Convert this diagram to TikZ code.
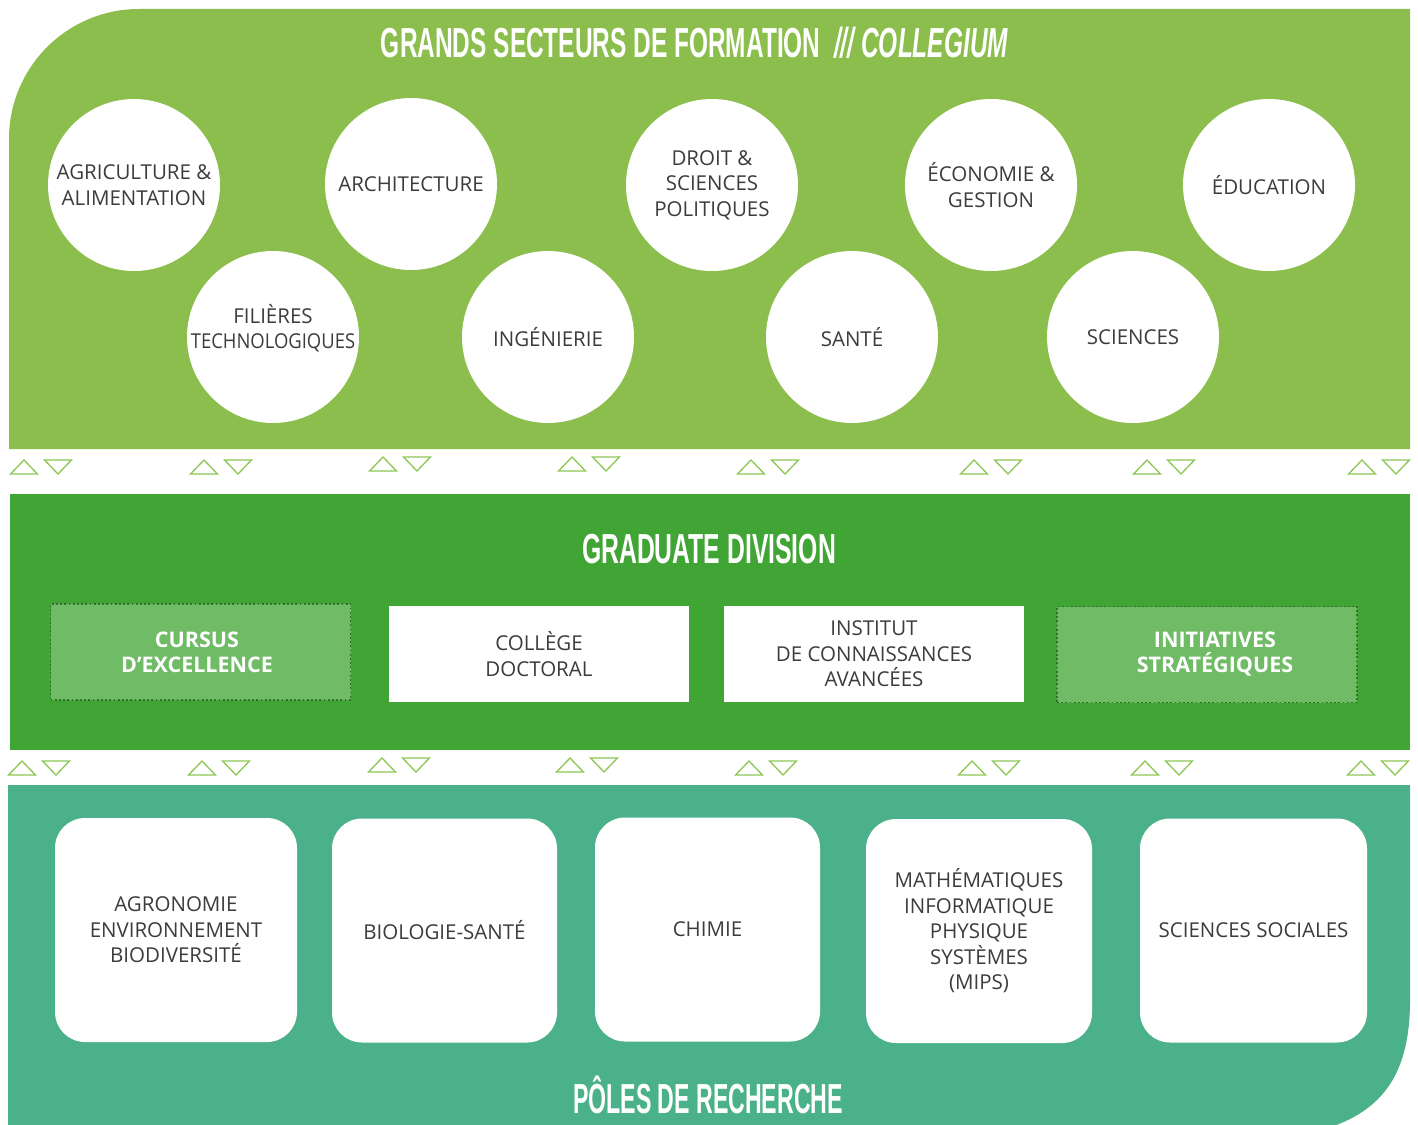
\documentclass[tikz,border=0pt]{standalone}
\usepackage{fontspec}
\usepackage{graphicx}
\setmainfont{Open Sans}
\newfontfamily\titlefont{Liberation Sans}
\definecolor{topgreen}{HTML}{8BBE4C}
\definecolor{midgreen}{HTML}{41A535}
\definecolor{botgreen}{HTML}{4BB18A}
\definecolor{dashfill}{HTML}{6FBB66}
\definecolor{dashline}{HTML}{376F30}
\definecolor{tricol}{HTML}{8CC653}
\definecolor{txt}{HTML}{3C3C3C}
\newcommand\ttl[2]{\resizebox{#1}{\height}{\titlefont\bfseries\fontsize{42}{42}\selectfont #2}}
\begin{document}
\begin{tikzpicture}[x=1pt,y=-1pt,
  bodyfont/.style={font=\fontsize{20.5}{25.5}\selectfont},
  circ/.style={circle, fill=white, minimum size=172pt, inner sep=0pt, align=center, bodyfont, text=txt},
  lbl/.style={inner sep=0pt, align=center, bodyfont, text=txt},
  wbox/.style={rectangle, fill=white, minimum width=300pt, minimum height=96pt, inner sep=0pt, align=center, bodyfont, text=txt},
  dbox/.style={rectangle, fill=dashfill, draw=dashline, dash pattern=on 1.8pt off 2.4pt, line width=1.8pt, minimum width=300pt, minimum height=96pt, inner sep=0pt, align=center, font=\fontsize{21.5}{25}\selectfont\bfseries, text=white},
  rbox/.style={rectangle, rounded corners=30pt, fill=white, minimum height=224pt, inner sep=0pt, align=center, bodyfont, text=txt},
  tri/.style={draw=tricol, line width=1.3pt, line join=miter},
  title/.style={text=white, inner sep=0pt, anchor=base},
  tripair/.pic={
    \draw[tri] (-13.5,7) -- (13.5,7) -- (0,-7) -- cycle;
    \draw[tri] (20.5,-7) -- (47.5,-7) -- (34,7) -- cycle;
  }]
\useasboundingbox (0,0) rectangle (1418,1124);
\clip (0,0) rectangle (1418,1124);
% bands
\fill[topgreen] (9,449) [rounded corners=130pt] -- (9,9) [sharp corners] -- (1410,9) -- (1410,449) -- cycle;
\fill[midgreen] (10,494) rectangle (1410,750);
\fill[botgreen] (8,785) -- (1410,785) -- (1410,1000) .. controls (1410,1090) and (1370,1135) .. (1250,1140) -- (8,1140) -- cycle;
% titles
\node[title] (t1) at (694.5,57) {\ttl{627pt}{GRANDS SECTEURS DE FORMATION\ \ \itshape /// COLLEGIUM}};
\node[title] (t2) at (709,563) {\ttl{254pt}{GRADUATE DIVISION}};
\node[title] (t3) at (708,1113) {\ttl{270pt}{PÔLES DE RECHERCHE}};
% circles
\node[circ] (agri) at (134,185) {AGRICULTURE \&\\ALIMENTATION};
\node[circ] (archi) at (411,184) {ARCHITECTURE};
\node[circ] (droit) at (712,185) {DROIT \&\\SCIENCES\\POLITIQUES};
\node[circ] (eco) at (991,185) {ÉCONOMIE \&\\GESTION};
\node[circ] (edu) at (1269,185) {ÉDUCATION};
\node[circ, label={[lbl, yshift=9pt]center:FILIÈRES\\\scalebox{0.9}[1]{TECHNOLOGIQUES}}] (fil) at (273,337) {};
\node[circ] (ing) at (548,337) {INGÉNIERIE};
\node[circ] (sante) at (852,337) {SANTÉ};
\node[circ] (sci) at (1133,337) {SCIENCES};
% graduate division boxes
\node[dbox] (cursus) at (200.5,652) {\hspace*{-7pt}CURSUS\\\hspace*{-7pt}D’EXCELLENCE};
\node[wbox] (coll) at (539,654) {COLLÈGE\\DOCTORAL};
\node[wbox] (inst) at (874,654) {INSTITUT\\DE CONNAISSANCES\\AVANCÉES};
\node[dbox] (init) at (1207,654.5) {\hspace*{16pt}INITIATIVES\\\hspace*{16pt}STRATÉGIQUES};
% research poles
\node[rbox, minimum width=242pt] (agro) at (176,930) {AGRONOMIE\\ENVIRONNEMENT\\BIODIVERSITÉ};
\node[rbox, minimum width=225pt] (bio) at (444.5,930.5) {BIOLOGIE-SANTÉ};
\node[rbox, minimum width=225pt] (chim) at (707.5,929.5) {CHIMIE};
\node[rbox, minimum width=226pt] (mips) at (979,931) {MATHÉMATIQUES\\INFORMATIQUE\\PHYSIQUE\\SYSTÈMES\\(MIPS)};
\node[rbox, minimum width=227pt] (soc) at (1253.5,930.5) {SCIENCES SOCIALES};
% triangle pairs
\foreach \x/\y in {24/467, 204/467, 383/464, 572/464, 751/467, 974/467, 1147/467, 1362/467,
                   22/768, 202/768, 382/765, 570/765, 749/768, 972/768, 1145/768, 1361/768}
  \pic at (\x,\y) {tripair};
\end{tikzpicture}
\end{document}
